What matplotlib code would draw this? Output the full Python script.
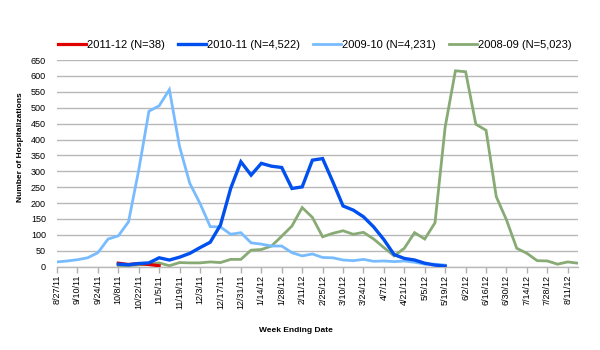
import matplotlib
matplotlib.use("Agg")
import matplotlib.pyplot as plt
import numpy as np

weeks = ["8/27/11", "9/3/11", "9/10/11", "9/17/11", "9/24/11", "10/1/11", "10/8/11", "10/15/11",
         "10/22/11", "10/29/11", "11/5/11", "11/12/11", "11/19/11", "11/26/11", "12/3/11", "12/10/11",
         "12/17/11", "12/24/11", "12/31/11", "1/7/12", "1/14/12", "1/21/12", "1/28/12", "2/4/12",
         "2/11/12", "2/18/12", "2/25/12", "3/3/12", "3/10/12", "3/17/12", "3/24/12", "3/31/12",
         "4/7/12", "4/14/12", "4/21/12", "4/28/12", "5/5/12", "5/12/12", "5/19/12", "5/26/12",
         "6/2/12", "6/9/12", "6/16/12", "6/23/12", "6/30/12", "7/7/12", "7/14/12", "7/21/12",
         "7/28/12", "8/4/12", "8/11/12", "8/18/12"]

# 2011-12 starts at week index 6
s2011_start = 6
s2011 = [11, 7, 10, 7, 3]

# 2010-11 starts at week index 6
s2010_start = 6
s2010 = [8, 6, 10, 12, 28, 21, 30, 42, 60, 77, 131, 246, 330, 288, 325, 316, 312, 246, 251,
         335, 340, 267, 191, 178, 157, 125, 85, 38, 26, 21, 11, 5, 2]

# 2009-10 starts at week index 0
s2009_start = 0
s2009 = [15, 18, 22, 28, 44, 87, 97, 141, 304, 489, 506, 557, 377, 262, 199, 126, 125, 102, 107,
         75, 71, 65, 65, 44, 34, 40, 29, 28, 21, 19, 23, 17, 18, 16, 18, 14, 8, 8, 5]

# 2008-09 starts at week index 6
s2008_start = 6
s2008 = [2, 3, 6, 8, 12, 3, 13, 12, 12, 15, 13, 23, 23, 52, 54, 65, 96, 128, 186, 155, 94, 105,
         113, 102, 108, 87, 60, 34, 58, 107, 87, 138, 440, 616, 613, 448, 429, 220, 147, 58, 42,
         19, 18, 8, 15, 11]

labels = ["2011-12 (N=38)", "2010-11 (N=4,522)", "2009-10 (N=4,231)", "2008-09 (N=5,023)"]
colors = ["#e00000", "#0050f0", "#78bcff", "#88aa74"]

plt.rcParams['font.family'] = ['Liberation Sans', 'DejaVu Sans']

fig = plt.figure(figsize=(6, 3.5), dpi=100)
ax = fig.add_axes([57/600, 1-266.7/350, (578-57)/600, (266.7-60)/350])

def xs(start, vals):
    return np.arange(start, start + len(vals))

l3, = ax.plot(xs(s2008_start, s2008), s2008, color=colors[3], lw=2.0, zorder=2, solid_joinstyle='miter')
l2, = ax.plot(xs(s2009_start, s2009), s2009, color=colors[2], lw=2.0, zorder=3, solid_joinstyle='miter')
l0, = ax.plot(xs(s2011_start, s2011), s2011, color=colors[0], lw=2.3, zorder=4, solid_joinstyle='miter')
l1, = ax.plot(xs(s2010_start, s2010), s2010, color=colors[1], lw=2.4, zorder=5, solid_joinstyle='miter')

ax.set_xlim(0, len(weeks) - 1)
ax.set_ylim(0, 650)
ax.set_yticks(np.arange(0, 651, 50))
ax.set_xticks(np.arange(0, len(weeks), 2))
ax.set_xticklabels(weeks[::2], rotation=90, fontsize=6.5)
ax.tick_params(axis='y', length=0, labelsize=6.5, pad=8)
ax.tick_params(axis='x', length=4, color='#b0b0b0', width=1, pad=2)
ax.yaxis.grid(True, color='#b8b8b8', lw=1)
ax.set_axisbelow(True)
for s in ['top', 'right', 'left']:
    ax.spines[s].set_visible(False)
ax.spines['bottom'].set_color('#b8b8b8')
ax.spines['bottom'].set_linewidth(1)

fig.text(20.5/600, 1-147.5/350, "Number of Hospitalizations", rotation=90, fontsize=6,
         fontweight='bold', ha='center', va='center')
fig.text(296/600, 1-330/350, "Week Ending Date", fontsize=6, fontweight='bold',
         ha='center', va='center')

fig.legend([l0, l1, l2, l3], labels, loc='center', bbox_to_anchor=(315/600, 1-45/350),
           ncol=4, frameon=False, fontsize=8, handlelength=2.5, handletextpad=0.1,
           columnspacing=1.2)

fig.savefig("out.png", dpi=100)
